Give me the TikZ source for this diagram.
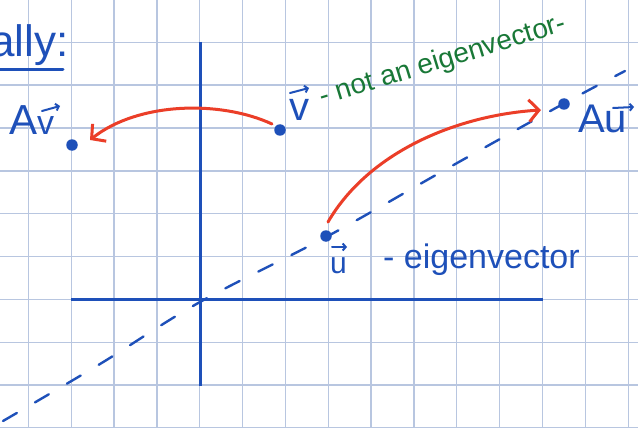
\documentclass[tikz,border=0pt]{standalone}
\usepackage{fontspec}
\setmainfont{Liberation Sans}
\usetikzlibrary{arrows.meta}
\definecolor{inkblue}{RGB}{30,80,185}
\definecolor{inkgreen}{RGB}{25,120,55}
\definecolor{inkred}{RGB}{235,62,40}
\definecolor{gridc}{RGB}{184,198,224}
\begin{document}
\begin{tikzpicture}[x=1pt,y=-1pt,
  gridline/.style={gridc, line width=1.3pt},
  axisline/.style={inkblue, line width=3pt},
  eigenline/.style={inkblue, line width=2.4pt, dash pattern=on 16pt off 21pt, line cap=round},
  dot/.style={circle, fill=inkblue, inner sep=0pt, minimum size=11.5pt},
  redarr/.style={inkred, line width=3pt, line cap=round, -{Straight Barb[length=10pt,width=22pt,line width=3pt]}},
  vecarr/.style={inkblue, line width=2pt, line cap=round, -{Straight Barb[length=3pt,width=7pt,line width=2pt]}},
  bluetext/.style={inkblue, inner sep=0pt, anchor=base west},
  greentext/.style={inkgreen, inner sep=0pt, anchor=base}]
\useasboundingbox (0,0) rectangle (638,428);
\clip (0,0) rectangle (638,428);
\fill[white] (0,0) rectangle (638,428);
% grid
\foreach \i in {0,...,14} \draw[gridline] ({28.3+42.85*\i},0) -- ++(0,428);
\foreach \j in {0,...,10} \draw[gridline] (0,{-0.55+42.85*\j}) -- ++(638,0);
% axes
\coordinate (ytop) at (200,42);
\coordinate (ybot) at (200,386);
\coordinate (xleft) at (71,299);
\coordinate (xright) at (543,299);
\draw[axisline] (ytop) -- (ybot);
\draw[axisline] (xleft) -- (xright);
% eigen line
\draw[eigenline] plot[smooth, tension=0.6] coordinates {(3,421) (100,364) (200,302) (328,236) (450,167) (563,104) (625,71)};
% dots
\node[dot] (vdot) at (280,130) {};
\node[dot] (avdot) at (72,145) {};
\node[dot] (udot) at (326,236) {};
\node[dot] (audot) at (564,104) {};
% red arrows
\coordinate (vs) at (272,124);
\coordinate (ave) at (90,140);
\coordinate (us) at (328,222);
\coordinate (aue) at (541,110);
\draw[redarr] (vs) .. controls (220,100) and (138,102) .. (ave);
\draw[redarr] (us) .. controls (370,150) and (460,115) .. (aue);
% texts
\node[bluetext, font=\fontsize{44}{50}\selectfont] (ally) at (-10,57) {ally:};
\draw[inkblue, line width=3pt, line cap=round] (0,70) -- (63,70);
\node[bluetext, font=\fontsize{42}{48}\selectfont] (avtext) at (9,135) {A\fontsize{34}{40}\selectfont v};
\draw[vecarr] (42,111) -- (60,106);
\node[bluetext, font=\fontsize{40}{46}\selectfont] (vtext) at (289,121) {v};
\draw[vecarr] (290,93) -- (309,88);
\node[greentext, rotate=17, font=\fontsize{28}{32}\selectfont] (nottext) at (445,68) {- not an eigenvector-};
\node[bluetext, font=\fontsize{40}{46}\selectfont] (autext) at (578,132) {Au};
\draw[vecarr] (613,108) -- (634,107);
\node[bluetext, font=\fontsize{30}{36}\selectfont] (utext) at (330,273) {u};
\draw[vecarr] (332,247) -- (347,247);
\node[bluetext, font=\fontsize{34}{40}\selectfont] (eigtext) at (383,268) {- eigenvector};
\end{tikzpicture}
\end{document}
